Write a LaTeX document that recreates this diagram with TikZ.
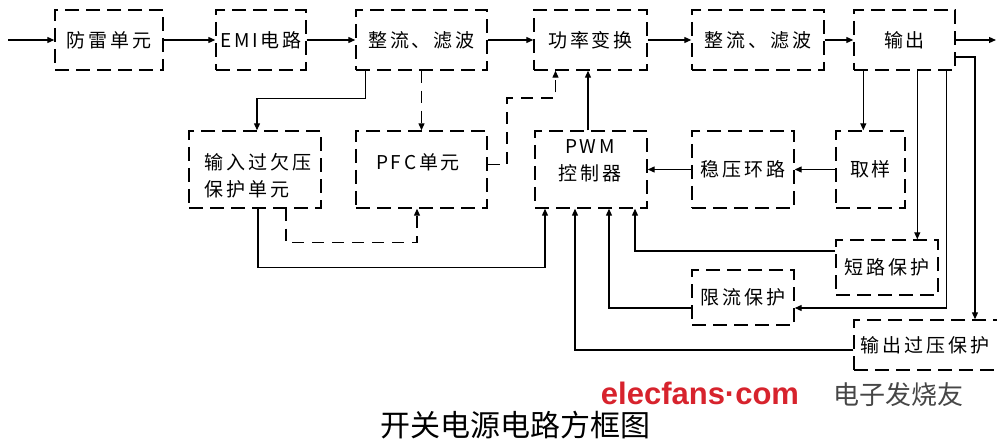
\documentclass[tikz,border=0pt]{standalone}
\usepackage{fontspec}
\newfontfamily\cjk{Noto Sans CJK SC}
\newfontfamily\cjksp[LetterSpace=15]{Noto Sans CJK SC}
\newfontfamily\wmfont{Liberation Sans}
\usetikzlibrary{arrows.meta}
\begin{document}
\begin{tikzpicture}[x=1pt,y=-1pt,
  box/.style={draw, line width=1.4pt, dash pattern=on 14pt off 7pt, inner sep=0pt, font=\cjksp\fontsize{19}{27}\selectfont, align=center},
  txt/.style={inner sep=0pt, font=\cjksp\fontsize{19}{27}\selectfont, align=left},
  arr/.style={line width=1.2pt, -{Triangle[length=7pt,width=6pt]}},
  dsh/.style={dash pattern=on 12pt off 8pt}]
\useasboundingbox (0,0) rectangle (997,441);
% top row
\node[box, minimum width=108pt, minimum height=60pt] (lei) at (109,40) {防雷单元};
\node[box, minimum width=90pt, minimum height=60pt] (emi) at (261,40) {EMI电路};
\node[box, minimum width=131pt, minimum height=60pt] (zl1) at (421.5,40) {整流、滤波};
\node[box, minimum width=113pt, minimum height=60pt] (gl) at (590.5,40) {功率变换};
\node[box, minimum width=132pt, minimum height=60pt] (zl2) at (758,40) {整流、滤波};
\node[box, minimum width=101pt, minimum height=60pt] (sc) at (904.5,40) {输出};
% second row
\node[box, minimum width=132pt, minimum height=77pt] (in) at (255,169.5) {};
\node[txt] (inT) at (258,176) {输入过欠压\\保护单元};
\node[box, minimum width=131pt, minimum height=77pt] (pfc) at (421.5,169.5) {};
\node[txt] (pfcT) at (418,162) {PFC单元};
\node[box, minimum width=112pt, minimum height=77pt] (pwm) at (591,169.5) {};
\node[txt, align=center] (pwmT) at (590,161) {PWM\\控制器};
\node[box, minimum width=102pt, minimum height=77pt] (wy) at (743,169.5) {稳压环路};
\node[box, minimum width=69pt, minimum height=77pt] (qy) at (870.5,169.5) {取样};
% protection boxes
\node[box, minimum width=102pt, minimum height=55pt] (dl) at (887,267.5) {短路保护};
\node[box, minimum width=102pt, minimum height=55pt] (xl) at (743,297.5) {限流保护};
\node[box, minimum width=146pt, minimum height=50pt] (gy) at (927,345) {};
\node[txt] (gyT) at (925,345) {输出过压保护};
% main chain
\coordinate (inp) at (8,40);
\coordinate (outp) at (996,40);
\draw[arr] (inp) -- (lei.west);
\draw[arr] (lei.east) -- (emi.west);
\draw[arr] (emi.east) -- (zl1.west);
\draw[arr] (zl1.east) -- (gl.west);
\draw[arr] (gl.east) -- (zl2.west);
\draw[arr] (zl2.east) -- (sc.west);
\draw[arr] (sc.east) -- (outp);
% rectifier to input protection and PFC
\draw[arr] ([xshift=10pt]zl1.south west) -- ++(0,28) -| ([xshift=2pt]in.north);
\draw[arr,dsh] (zl1.south) -- (pfc.north);
\draw[arr,dsh] ([yshift=5pt]pfc.east) -- (507,164.5) -- (507,98) -| ([xshift=-35pt]gl.south);
\draw[arr] ([xshift=-3pt]pwm.north) -- ([xshift=-3pt]pwm.north |- gl.south);
% output feedback
\draw[arr] ([xshift=10pt]sc.south west) -- ([xshift=10pt]sc.south west |- qy.north);
\draw[arr] (qy.west) -- (wy.east);
\draw[arr] (wy.west) -- (pwm.east);
\draw[arr] ([xshift=64pt]sc.south west) -- ([xshift=64pt]sc.south west |- dl.north);
\draw[arr] ([xshift=93pt]sc.south west) |- ([yshift=-10.5pt]xl.east);
\draw[arr] ([yshift=-17pt]sc.east) -| ([xshift=48pt]gy.north);
% protections to PWM
\draw[arr] ([yshift=16.5pt]dl.west) -| ([xshift=44pt]pwm.south);
\draw[arr] ([yshift=-10.5pt]xl.west) -| ([xshift=18pt]pwm.south);
\draw[arr] ([yshift=-5pt]gy.west) -| ([xshift=-16pt]pwm.south);
\draw[arr] ([xshift=3pt]in.south) -- ++(0,59) -| ([xshift=-46pt]pwm.south);
\draw[arr,dsh] ([xshift=31pt]in.south) -- ++(0,34) -| ([xshift=-4.5pt]pfc.south);
% watermark and caption
\node[inner sep=0pt, text={rgb,255:red,215;green,35;blue,45}, font=\wmfont\bfseries\fontsize{31}{31}\selectfont] (wm) at (700,393) {elecfans·com};
\node[inner sep=0pt, text={rgb,255:red,70;green,70;blue,70}, font=\cjk\fontsize{26}{26}\selectfont] (wm2) at (898,395) {电子发烧友};
\node[inner sep=0pt, font=\cjk\fontsize{30}{30}\selectfont] (cap) at (515,425) {开关电源电路方框图};
\end{tikzpicture}
\end{document}
